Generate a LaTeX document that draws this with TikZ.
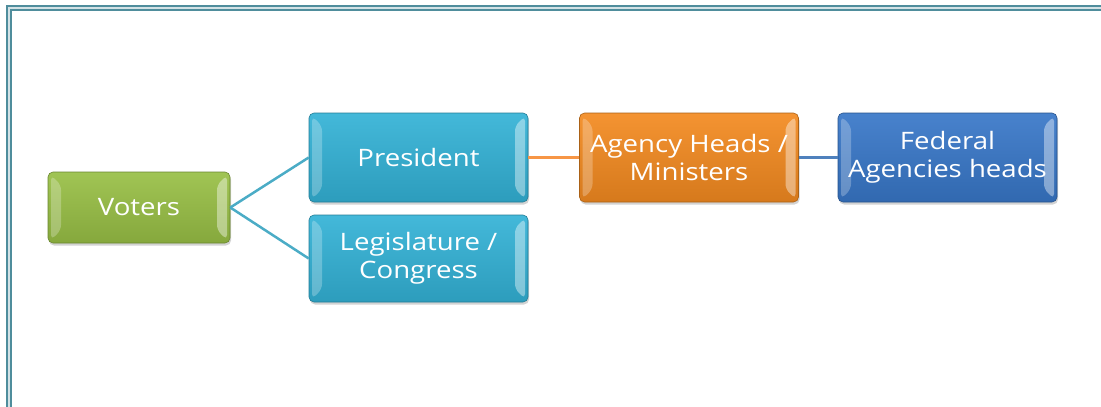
\documentclass[tikz,border=0pt]{standalone}
\usepackage{fontspec}
\setmainfont{Open Sans}[FakeStretch=1.15]
\usetikzlibrary{positioning,shadows}

\definecolor{frameteal}{HTML}{4F8D9C}
\definecolor{linkteal}{HTML}{4BACC6}
\definecolor{linkorange}{HTML}{F79646}
\definecolor{linkblue}{HTML}{4F81BD}

\begin{document}
\begin{tikzpicture}[x=1pt,y=-1pt,
    bevelbox/.style={rounded corners=5pt, draw=#1!70!black, line width=0.6pt,
      minimum height=89pt, minimum width=219pt, inner sep=0pt, align=center,
      text=white, font=\fontsize{24}{28}\selectfont,
      drop shadow={opacity=0.35, shadow xshift=1pt, shadow yshift=-2.5pt},
      top color=#1!92!white, bottom color=#1!88!black,
      path picture={
        \fill[white,opacity=0.25] ([shift={(3pt,-3pt)}]path picture bounding box.north west)
          -- ++(10pt,-10pt) -- ([shift={(13pt,13pt)}]path picture bounding box.south west)
          -- ++(-10pt,-10pt) -- cycle;
        \fill[white,opacity=0.4] ([shift={(-3pt,-3pt)}]path picture bounding box.north east)
          -- ++(-10pt,-10pt) -- ([shift={(-13pt,13pt)}]path picture bounding box.south east)
          -- ++(10pt,-10pt) -- cycle;
      }},
    link/.style={line width=2.5pt}]
  \useasboundingbox (0,0) rectangle (1101,407);

  % Frame
  \draw[frameteal, line width=1.8pt, double=white!75!frameteal, double distance=2pt]
    (9,8) rectangle (1115,420);

  % Boxes
  \definecolor{greenbox}{HTML}{98BF45}
  \definecolor{tealbox}{HTML}{33B2D6}
  \definecolor{orangebox}{HTML}{F38A20}
  \definecolor{bluebox}{HTML}{3877C8}
  \node[bevelbox=greenbox, minimum width=182pt, minimum height=71pt] (voters) at (139,207.5) {Voters};
  \node[bevelbox=tealbox] (president) at (418.5,157.5) {President};
  \node[bevelbox=tealbox, minimum height=87pt] (congress) at (418.5,258.5) {Legislature /\\Congress};
  \node[bevelbox=orangebox] (agency) at (689,157.5) {Agency Heads /\\Ministers};
  \node[bevelbox=bluebox] (federal) at (947.5,157.5) {Federal\\Agencies heads};

  % Links
  \draw[link, linkteal] (voters.east) -- (president.west);
  \draw[link, linkteal] (voters.east) -- (congress.west);
  \draw[link, linkorange] (president.east) -- (agency.west);
  \draw[link, linkblue] (agency.east) -- (federal.west);
\end{tikzpicture}
\end{document}
